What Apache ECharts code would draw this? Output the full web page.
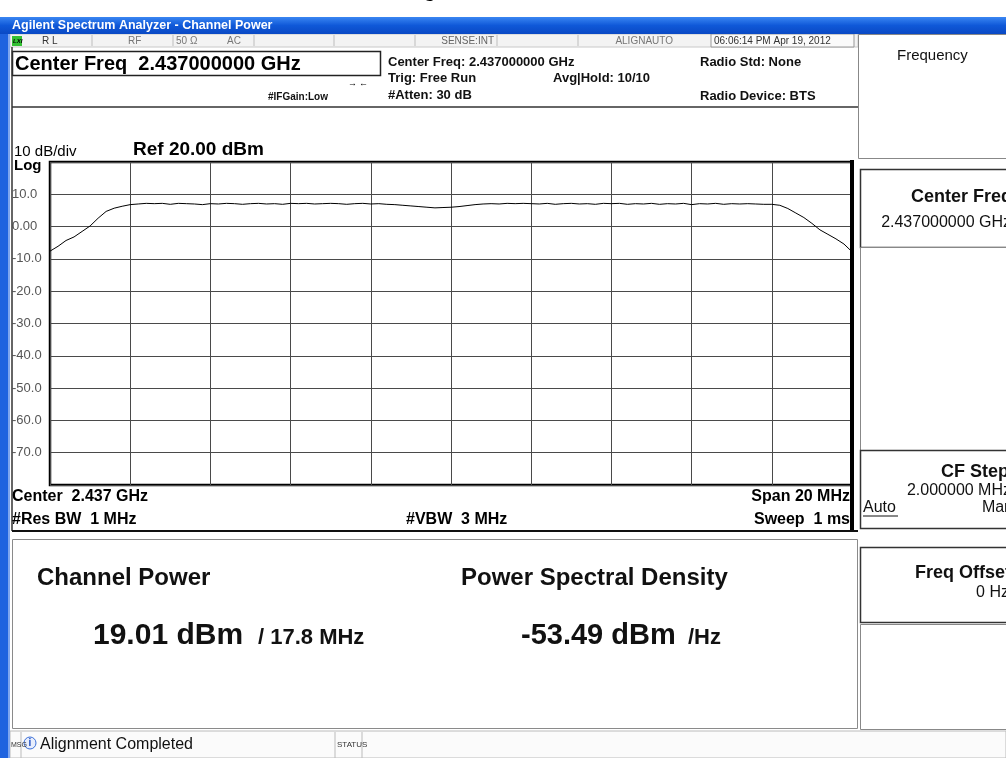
<!DOCTYPE html>
<html>
<head>
<meta charset="utf-8">
<script src="https://cdn.jsdelivr.net/npm/echarts@6/dist/echarts.min.js"></script>
<style>
html,body{margin:0;padding:0;background:#fff;}
#chart{width:1006px;height:758px;}
</style>
</head>
<body>
<div id="chart"></div>
<script>
// ---- Data ----
const freqOffsetMHz = [
  -10.0,-9.8,-9.6,-9.4,-9.2,-9.0,-8.8,-8.6,-8.4,-8.2,
  -8.0,-7.8,-7.6,-7.4,-7.2,-7.0,-6.8,-6.6,-6.4,-6.2,
  -6.0,-5.8,-5.6,-5.4,-5.2,-5.0,-4.8,-4.6,-4.4,-4.2,
  -4.0,-3.8,-3.6,-3.4,-3.2,-3.0,-2.8,-2.6,-2.4,-2.2,
  -2.0,-1.8,-1.6,-1.4,-1.2,-1.0,-0.8,-0.6,-0.4,-0.2,
  0.0,0.2,0.4,0.6,0.8,1.0,1.2,1.4,1.6,1.8,
  2.0,2.2,2.4,2.6,2.8,3.0,3.2,3.4,3.6,3.8,
  4.0,4.2,4.4,4.6,4.8,5.0,5.2,5.4,5.6,5.8,
  6.0,6.2,6.4,6.6,6.8,7.0,7.2,7.4,7.6,7.8,
  8.0,8.2,8.4,8.6,8.8,9.0,9.2,9.4,9.6,9.8,
  10.0
];
const traceDbm = [
  -7.6,-6.1,-4.3,-3.2,-1.5,0.2,2.6,4.7,5.7,6.3,
  6.8,7.0,7.2,7.1,7.2,6.9,7.2,7.1,7.0,6.8,
  7.1,7.0,7.2,7.1,6.9,7.1,7.2,7.0,7.1,6.9,
  7.2,7.1,7.2,7.0,7.1,7.2,7.1,6.9,7.1,7.2,
  7.0,7.1,6.9,6.8,6.6,6.4,6.2,6.0,5.8,5.9,
  6.0,6.2,6.5,6.8,7.0,7.1,7.0,7.2,7.1,7.2,
  7.1,7.0,7.2,6.9,7.1,7.2,7.0,7.1,6.9,7.2,
  7.1,7.2,6.9,7.1,7.0,7.2,6.9,7.1,7.0,7.2,
  6.8,7.1,7.0,7.2,6.9,7.1,7.0,7.1,7.0,6.9,
  6.9,6.6,5.6,4.2,2.8,1.0,-1.0,-2.4,-3.8,-5.4,
  -7.8
];
const yTickValues = [10, 0, -10, -20, -30, -40, -50, -60, -70];
const yTickLabels = ['10.0', '0.00', '-10.0', '-20.0', '-30.0', '-40.0', '-50.0', '-60.0', '-70.0'];

// ---- Drawing helpers (screen furniture) ----
const SANS = "'Liberation Sans', Arial, sans-serif";
const NARROW = "'Liberation Sans Narrow', 'Liberation Sans', Arial, sans-serif";
function T(x, y, text, font, fill, align, extra) {
  return Object.assign({
    type: 'text', z: 50,
    style: { x: x, y: y, text: text, font: font, fill: fill || '#000',
      align: align || 'left', textAlign: align || 'left',
      verticalAlign: 'middle', textVerticalAlign: 'middle' }
  }, extra || {});
}
function R(x, y, w, h, fill, stroke, lw, z) {
  return { type: 'rect', z: z == null ? 1 : z, shape: { x: x, y: y, width: w, height: h },
    style: { fill: fill || 'none', stroke: stroke || null, lineWidth: lw || 0 } };
}
function L(x1, y1, x2, y2, stroke, lw, z) {
  return { type: 'line', z: z == null ? 40 : z, shape: { x1: x1, y1: y1, x2: x2, y2: y2 },
    style: { stroke: stroke || '#000', lineWidth: lw || 1 } };
}

const g = [];
// figure caption (clipped at top of page)
g.push(T(480, -7, 'Figure 8 Channel 6', "bold 17px 'Liberation Serif', serif", '#000', 'center', { z: 0 }));
// window title bar
g.push({ type: 'rect', z: 5, shape: { x: 0, y: 17, width: 1006, height: 17 },
  style: { fill: new echarts.graphic.LinearGradient(0, 0, 0, 1, [
    { offset: 0, color: '#3a86f2' }, { offset: 0.5, color: '#0f58d8' }, { offset: 1, color: '#0a49c4' }]) } });
g.push(T(12, 25.5, 'Agilent Spectrum Analyzer - Channel Power', 'bold 12.5px ' + SANS, '#fff', 'left'));
// left blue window border
g.push(R(0, 34, 8, 724, '#1f63df', null, 0, 5));
g.push(R(8, 34, 2, 724, '#7fa6ee', null, 0, 5));

// status row
g.push(R(10, 34, 848, 13, '#f3f3f3', '#c8c8c8', 1, 2));
g.push(R(12, 36, 10, 10, '#33c033', null, 0, 6));
g.push(T(13, 41, 'LXI', 'bold italic 6px ' + SANS, '#000', 'left'));
[92, 173, 254, 334, 415, 497, 578].forEach(function (x) { g.push(L(x, 35, x, 46, '#bdbdbd', 1)); });
g.push(T(42, 41, 'R L', '10px ' + SANS, '#333'));
g.push(T(128, 41, 'RF', '10px ' + SANS, '#777'));
g.push(T(176, 41, '50 Ω', '10px ' + SANS, '#777'));
g.push(T(227, 41, 'AC', '10px ' + SANS, '#777'));
g.push(T(494, 41, 'SENSE:INT', '10px ' + NARROW, '#666', 'right'));
g.push(T(673, 41, 'ALIGNAUTO', '10px ' + NARROW, '#777', 'right'));
g.push(R(711, 34, 143, 13, '#fafafa', '#999', 1, 3));
g.push(T(714, 41, '06:06:14 PM Apr 19, 2012', '10px ' + NARROW, '#333'));

// header block
g.push(L(12, 47, 12, 531, '#333', 1.5));
g.push(R(12.5, 51.5, 368, 24, '#fff', '#222', 1.5, 3));
g.push(T(15, 64, 'Center Freq  2.437000000 GHz', 'bold 20px ' + SANS, '#000'));
g.push(T(348, 84, '→', 'bold 9px ' + SANS, '#000'));
g.push(T(359, 84, '←', 'bold 9px ' + SANS, '#000'));
g.push(T(268, 97, '#IFGain:Low', 'bold 10px ' + SANS, '#111'));
g.push(T(388, 62, 'Center Freq: 2.437000000 GHz', 'bold 13px ' + SANS, '#111'));
g.push(T(388, 78, 'Trig: Free Run', 'bold 13px ' + SANS, '#111'));
g.push(T(388, 95, '#Atten: 30 dB', 'bold 13px ' + SANS, '#111'));
g.push(T(553, 78, 'Avg|Hold: 10/10', 'bold 13px ' + SANS, '#111'));
g.push(T(700, 62, 'Radio Std: None', 'bold 13px ' + SANS, '#111'));
g.push(T(700, 96, 'Radio Device: BTS', 'bold 13px ' + SANS, '#111'));
g.push(L(12, 107, 858, 107, '#333', 1.5));

// plot annotations
g.push(T(14, 152, '10 dB/div', '15px ' + SANS, '#000'));
g.push(T(133, 150, 'Ref 20.00 dBm', 'bold 19px ' + SANS, '#000'));
g.push(T(14, 166, 'Log', 'bold 15px ' + SANS, '#000'));
g.push(T(12, 497, 'Center  2.437 GHz', 'bold 16px ' + SANS, '#000'));
g.push(T(850, 497, 'Span 20 MHz', 'bold 16px ' + SANS, '#000', 'right'));
g.push(T(12, 520, '#Res BW  1 MHz', 'bold 16px ' + SANS, '#000'));
g.push(T(406, 520, '#VBW  3 MHz', 'bold 16px ' + SANS, '#000'));
g.push(T(850, 520, 'Sweep  1 ms', 'bold 16px ' + SANS, '#000', 'right'));
g.push(L(12, 531, 858, 531, '#111', 2));
g.push(R(850, 160, 4, 372, '#000', null, 0, 30));

// results panel
g.push(R(12.5, 539.5, 845, 189, '#fff', '#8a8a8a', 1, 2));
g.push(T(37, 578, 'Channel Power', 'bold 24px ' + NARROW, '#111'));
g.push(T(461, 578, 'Power Spectral Density', 'bold 24px ' + NARROW, '#111'));
g.push(T(93, 636, '19.01 dBm', 'bold 30px ' + NARROW, '#111'));
g.push(T(258, 638, '/ 17.8 MHz', 'bold 22px ' + NARROW, '#111'));
g.push(T(521, 636, '-53.49 dBm', 'bold 29px ' + NARROW, '#111'));
g.push(T(688, 638, '/Hz', 'bold 22px ' + NARROW, '#111'));

// status bar
g.push(R(10, 731, 996, 27, '#fbfbfb', '#bbb', 1, 2));
g.push(L(21, 732, 21, 758, '#bbb', 1));
g.push(L(335, 732, 335, 758, '#bbb', 1));
g.push(L(362, 732, 362, 758, '#bbb', 1));
g.push(T(11, 745, 'MSG', '7px ' + SANS, '#333'));
g.push({ type: 'circle', z: 45, shape: { cx: 30, cy: 743, r: 6 }, style: { fill: '#e8eefc', stroke: '#3a6fd8', lineWidth: 1 } });
g.push(T(30, 743, 'i', 'bold 10px ' + SANS, '#1d4fc4', 'center'));
g.push(T(40, 745, 'Alignment Completed', '16px ' + SANS, '#111'));
g.push(T(337, 745, 'STATUS', '8px ' + SANS, '#333'));

// right soft-key panel
g.push(R(858.5, 34.5, 150, 124, '#fff', '#888', 1, 2));
g.push(T(897, 56, 'Frequency', '15px ' + SANS, '#111'));
g.push(R(860.5, 169.5, 150, 78, '#fff', '#333', 1.5, 2));
g.push(T(1012, 197, 'Center Freq', 'bold 18px ' + SANS, '#111', 'right'));
g.push(T(1011, 223, '2.437000000 GHz', '16px ' + SANS, '#111', 'right'));
g.push(R(860.5, 247.5, 150, 203, '#fff', '#888', 1, 2));
g.push(R(860.5, 450.5, 150, 78, '#fff', '#333', 1.5, 2));
g.push(T(1009, 472, 'CF Step', 'bold 18px ' + SANS, '#111', 'right'));
g.push(T(1011, 491, '2.000000 MHz', '16px ' + SANS, '#111', 'right'));
g.push(T(863, 508, 'Auto', '16px ' + SANS, '#111', 'left'));
g.push(L(863, 516, 898, 516, '#111', 1));
g.push(T(1013, 508, 'Man', '16px ' + SANS, '#111', 'right'));
g.push(R(860.5, 547.5, 150, 75, '#fff', '#333', 1.5, 2));
g.push(T(1011, 573, 'Freq Offset', 'bold 18px ' + SANS, '#111', 'right'));
g.push(T(1009, 593, '0 Hz', '16px ' + SANS, '#111', 'right'));
g.push(R(860.5, 624.5, 150, 105, '#fff', '#888', 1, 2));

const chart = echarts.init(document.getElementById('chart'), null, { renderer: 'canvas' });
chart.setOption({
  animation: false,
  backgroundColor: '#ffffff',
  grid: { left: 50, top: 162, width: 802, height: 323, show: true, borderColor: '#000', borderWidth: 2.5, backgroundColor: '#fff', z: 10 },
  xAxis: {
    type: 'value', min: -10, max: 10, interval: 2,
    axisLine: { show: false }, axisTick: { show: false }, axisLabel: { show: false },
    splitLine: { show: true, lineStyle: { color: '#4a4a4a', width: 1 } }, z: 11
  },
  yAxis: {
    type: 'value', min: -80, max: 20, interval: 10,
    axisLine: { show: false }, axisTick: { show: false },
    axisLabel: {
      align: 'left', margin: 38, color: '#555', fontSize: 13, fontFamily: SANS,
      formatter: function (v) { const i = yTickValues.indexOf(v); return i >= 0 ? yTickLabels[i] : ''; }
    },
    splitLine: { show: true, lineStyle: { color: '#4a4a4a', width: 1 } }, z: 11
  },
  series: [{
    type: 'line', z: 12, showSymbol: false, symbol: 'none',
    data: freqOffsetMHz.map(function (f, i) { return [f, traceDbm[i]]; }),
    lineStyle: { color: '#000', width: 1 }
  }],
  graphic: { elements: g }
});
</script>
</body>
</html>
